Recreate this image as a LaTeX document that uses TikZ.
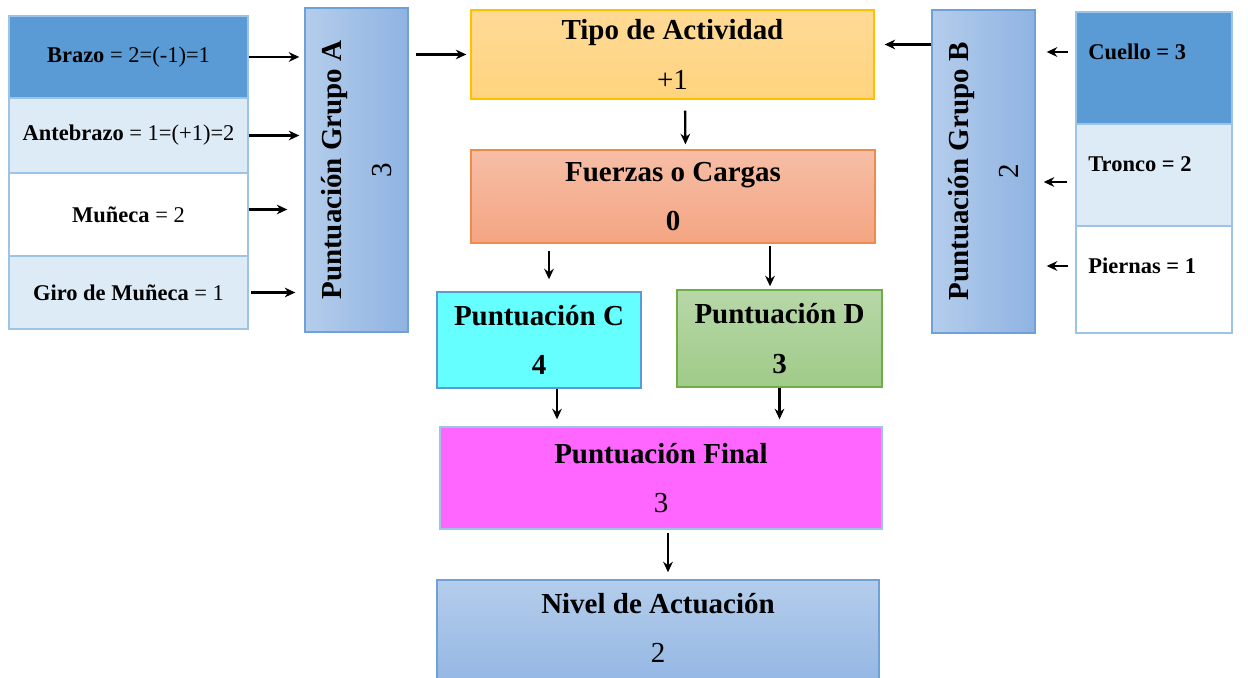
\documentclass[tikz,border=0pt]{standalone}
\usepackage{fontspec}
\setmainfont{Liberation Serif}
\usetikzlibrary{arrows.meta}

\definecolor{celldark}{HTML}{5B9BD5}
\definecolor{celllight}{HTML}{DDEBF7}
\definecolor{cellline}{HTML}{9DC3E6}
\definecolor{grupoline}{HTML}{6FA0D8}
\definecolor{grupoL}{HTML}{B4CDEB}
\definecolor{grupoR}{HTML}{8FB3E2}
\definecolor{tipoline}{HTML}{FFC000}
\definecolor{tipoT}{HTML}{FFDA96}
\definecolor{tipoB}{HTML}{FFD47F}
\definecolor{fuerzaline}{HTML}{F08A4B}
\definecolor{fuerzaT}{HTML}{F6BEA6}
\definecolor{fuerzaB}{HTML}{F4A582}
\definecolor{cfill}{HTML}{66FFFF}
\definecolor{dline}{HTML}{70AD47}
\definecolor{dT}{HTML}{B7D7A8}
\definecolor{dB}{HTML}{A0CB88}
\definecolor{finalfill}{HTML}{FF66FF}

\begin{document}
\begin{tikzpicture}[x=0.02cm, y=-0.02cm, >={Stealth[length=6pt,width=5.5pt]},
    arr/.style={->, line width=1.3pt},
    cell/.style={draw=cellline, line width=0.8pt, inner sep=0pt, minimum width=4.78cm, font=\fontsize{12.8}{15}\selectfont},
    rcell/.style={draw=cellline, line width=0.8pt, inner sep=0pt, minimum width=3.12cm},
    rlabel/.style={anchor=west, inner sep=0pt, font=\fontsize{12.8}{15}\selectfont\bfseries},
    grupo/.style={draw=grupoline, line width=0.8pt, left color=grupoL, right color=grupoR, minimum width=2.06cm, minimum height=6.48cm},
    box/.style={line width=0.8pt, align=center, inner sep=0pt, font=\fontsize{16.5}{20}\selectfont},
    big/.style={align=center, font=\fontsize{16.5}{20}\selectfont}]

\useasboundingbox (0,0) rectangle (1248,678);

% tabla grupo A
\node[cell, fill=celldark, minimum height=1.64cm] (brazo) at (128.5,57) {\textbf{Brazo} = 2=(-1)=1};
\node[cell, fill=celllight, minimum height=1.5cm] (antebrazo) at (128.5,135.5) {\textbf{Antebrazo} = 1=(+1)=2};
\node[cell, fill=white, minimum height=1.66cm] (muneca) at (128.5,214.5) {\textbf{Muñeca} = 2};
\node[cell, fill=celllight, minimum height=1.46cm] (giro) at (128.5,292.5) {\textbf{Giro de Muñeca} = 1};

\node[grupo] (grupoA) at (356.5,170) {};
\node[big, rotate=90] (grupoAtxt) at (grupoA) {\textbf{Puntuación Grupo A}\\[8pt]3};

% tabla grupo B
\node[rcell, fill=celldark, minimum height=2.24cm] (cuello) at (1154,68) {};
\node[rcell, fill=celllight, minimum height=2.04cm] (tronco) at (1154,175) {};
\node[rcell, fill=white, minimum height=2.14cm] (piernas) at (1154,279.5) {};
\node[rlabel] (cuelloTxt) at (1088,52) {Cuello = 3};
\node[rlabel] (troncoTxt) at (1088,164) {Tronco = 2};
\node[rlabel] (piernasTxt) at (1088,266) {Piernas = 1};

\node[grupo, minimum height=6.46cm] (grupoB) at (983.5,171.5) {};
\node[big, rotate=90] (grupoBtxt) at (grupoB) {\textbf{Puntuación Grupo B}\\[8pt]2};

% cajas centrales
\node[box, draw=tipoline, top color=tipoT, bottom color=tipoB, minimum width=8.06cm, minimum height=1.78cm] (tipo) at (672.5,54.5) {\textbf{Tipo de Actividad}\\[8pt]+1};
\node[box, draw=fuerzaline, top color=fuerzaT, bottom color=fuerzaB, minimum width=8.08cm, minimum height=1.86cm] (fuerzas) at (673,196.5) {\textbf{Fuerzas o Cargas}\\[8pt]\textbf{0}};
\node[box, draw=celldark, fill=cfill, minimum width=4.08cm, minimum height=1.92cm] (puntC) at (539,340) {\textbf{Puntuación C}\\[8pt]\textbf{4}};
\node[box, draw=dline, top color=dT, bottom color=dB, minimum width=4.1cm, minimum height=1.94cm] (puntD) at (779.5,338.5) {\textbf{Puntuación D}\\[8pt]\textbf{3}};
\node[box, draw=cellline, fill=finalfill, minimum width=8.84cm, minimum height=2.04cm] (final) at (661,478) {\textbf{Puntuación Final}\\[8pt]3};
\node[box, draw=grupoline, top color=grupoL, bottom color=grupoR, minimum width=8.84cm, minimum height=2.4cm] (nivel) at (658,640) {};
\node[big] (nivelTxt) at (658,628) {\textbf{Nivel de Actuación}\\[8pt]2};

% flechas
\draw[arr, shorten >=0.1cm] (brazo.east) -- (brazo.east -| grupoA.west);
\draw[arr, shorten >=0.1cm] (antebrazo.east) -- (antebrazo.east -| grupoA.west);
\draw[arr, shorten >=0.34cm] ([yshift=0.1cm]muneca.east) -- ([yshift=0.1cm]muneca.east -| grupoA.west);
\draw[arr, shorten <=0.04cm, shorten >=0.18cm] (giro.east) -- (giro.east -| grupoA.west);
\draw[arr, shorten <=0.14cm, shorten >=0.08cm] (grupoA.east |- tipo.west) -- (tipo.west);
\draw[arr, shorten >=0.2cm] ([yshift=0.2cm]grupoB.west |- tipo.east) -- ([yshift=0.2cm]tipo.east);

\draw[arr, shorten <=0.14cm, shorten >=0.22cm] (cuelloTxt.west -| cuello.west) -- (cuelloTxt.west -| grupoB.east);
\draw[arr, shorten <=0.16cm, shorten >=0.16cm] ([yshift=-0.14cm]tronco.west) -- ([yshift=-0.14cm]tronco.west -| grupoB.east);
\draw[arr, shorten <=0.14cm, shorten >=0.22cm] (piernasTxt.west -| piernas.west) -- (piernasTxt.west -| grupoB.east);

\draw[arr, shorten <=0.22cm, shorten >=0.1cm] ([xshift=0.25cm]tipo.south) -- ([xshift=0.25cm]fuerzas.north);
\draw[arr, shorten <=0.14cm, shorten >=0.24cm] ([xshift=0.2cm]puntC.north |- fuerzas.south) -- ([xshift=0.2cm]puntC.north);
\draw[arr, shorten <=0.04cm, shorten >=0.06cm] ([xshift=-0.19cm]puntD.north |- fuerzas.south) -- ([xshift=-0.19cm]puntD.north);
\draw[arr, shorten >=0.14cm] ([xshift=0.36cm]puntC.south) -- ([xshift=0.36cm]puntC.south |- final.north);
\draw[arr, shorten >=0.14cm] (puntD.south) -- (puntD.south |- final.north);
\draw[arr, shorten <=0.06cm, shorten >=0.14cm] ([xshift=0.14cm]final.south) -- ([xshift=0.14cm]final.south |- nivel.north);
\end{tikzpicture}
\end{document}
